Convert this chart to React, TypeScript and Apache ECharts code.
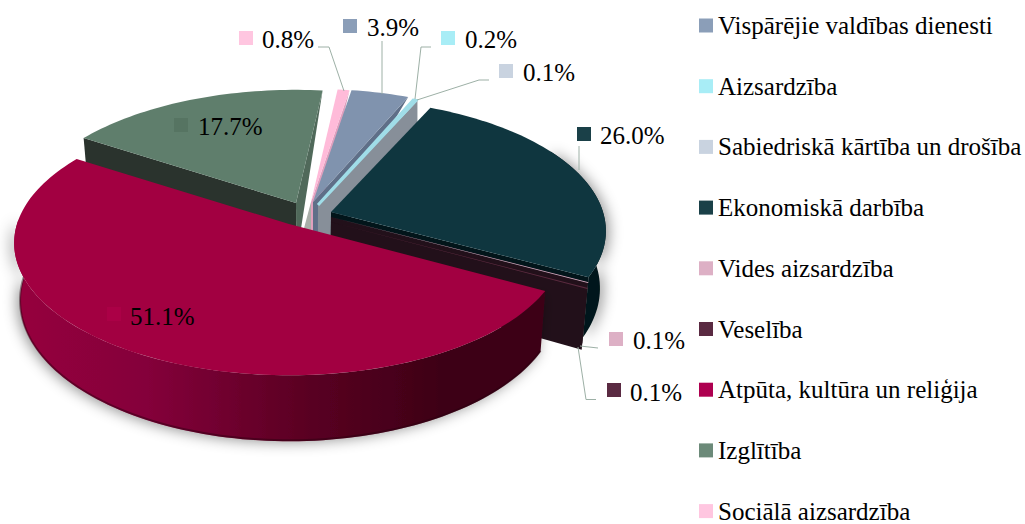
import React, { useEffect, useRef } from "react";
import * as echarts from "echarts";

const categories = [
  "Vispārējie valdības dienesti",
  "Aizsardzība",
  "Sabiedriskā kārtība un drošība",
  "Ekonomiskā darbība",
  "Vides aizsardzība",
  "Veselība",
  "Atpūta, kultūra un reliģija",
  "Izglītība",
  "Sociālā aizsardzība",
];
const shares = [3.9, 0.2, 0.1, 26.0, 0.1, 0.1, 51.1, 17.7, 0.8];
const legendColors = ["#8B9EB8", "#A8EDF6", "#C9D3E0", "#1A4048", "#DDB0C5", "#5A2A42", "#AE0050", "#6C8A79", "#FFC6E0"];

const FONT = "'Liberation Serif', 'Times New Roman', serif";
const FONT_SIZE = 25;
const START = 9.3; // degrees clockwise from the back of the pie
const R = 272, K = 0.476, P = 0.144;

// per-slice look: exploded apex, top colour, cut faces, wall
const looks: any[] = [
  { apex: [313, 202], top: "#8093AE", end: "#5F6F88", z: 4, endDrop: 0 },
  { apex: [318, 205], top: "#A0DDE8", stroke: 3, z: 5 },
  { apex: [318, 205], top: "#C2CBD8", end: "#878F99", z: 4.5, endDrop: 30 },
  { apex: [331, 212], top: "#0F363F", end: "#02151A", wall: "#02151A", shadowX: 3, z: 7 },
  { apex: [331, 217], top: "#D8A8BE", end: "#22101A", z: 8 },
  { apex: [331, 222], top: "#5A2A3F", end: "#22101A", z: 9 },
  { apex: [289, 224], top: "#A20041", wall: "red", shadowX: -3, z: 10 },
  { apex: [296, 203], top: "#5F7E6C", start: "#2A332D", end: "#50695A", z: 2, endDrop: 0 },
  { apex: [311, 202], top: "#FFBBD9", end: "#E0A0BE", z: 3, endDrop: 0, under: [[311, 202], [303, 232], [313, 232]], underFill: "#A8AEA8" },
];

// data-label key squares, text and leader lines
const labelLooks: any[] = [
  { box: [343, 19, 14], color: "#8B9EB8", tx: 367, ty: 27, line: [[382, 41], [382, 94]] },
  { box: [441, 31, 14], color: "#A8EDF6", tx: 465, ty: 39, line: [[431, 47], [421, 47], [415, 99]] },
  { box: [499, 64, 14], color: "#C9D3E0", tx: 523, ty: 72, line: [[489, 80], [479, 80], [417, 100]] },
  { box: [577, 127, 14], color: "#1A4048", tx: 600, ty: 135, line: [[579, 146], [579, 170]] },
  { box: [609, 332, 14], color: "#DDB0C5", tx: 633, ty: 340, line: [[598, 348], [580, 346]] },
  { box: [607, 383, 14], color: "#5A2A42", tx: 630, ty: 392, line: [[596, 399.5], [586, 399.5], [578, 347]] },
  { box: [107, 307, 14], color: "#AB0046", tx: 130, ty: 316 },
  { box: [174, 118, 14], color: "#567462", tx: 198, ty: 126 },
  { box: [239, 31, 14], color: "#FFC6E0", tx: 262, ty: 39, line: [[318, 47], [329, 47], [344, 91]] },
];

const total = shares.reduce((a, b) => a + b, 0);

function rimOffset(deg: number) {
  const t = (deg * Math.PI) / 180;
  const u = Math.sin(t), v = -Math.cos(t);
  const s = 1 / (1 - P * v);
  return [R * u * s, R * K * v * s];
}
function rimPoint(apex: number[], deg: number) {
  const o = rimOffset(deg);
  return [apex[0] + o[0], apex[1] + o[1]];
}
function basePoint(p: number[]) {
  return [310 + (p[0] - 310) * 0.98, p[1] + 60 + 0.06 * (p[1] - 275)];
}
function arc(apex: number[], a: number, b: number) {
  const n = Math.max(2, Math.ceil((b - a) / 1.5));
  const pts: number[][] = [];
  for (let i = 0; i <= n; i++) pts.push(rimPoint(apex, a + ((b - a) * i) / n));
  return pts;
}

function renderSlice(index: number, value: number) {
  const before = shares.slice(0, index).reduce((a, b) => a + b, 0);
  const a = START + (before / total) * 360;
  const b = a + (value / total) * 360;
  const look = looks[index];
  const apex = look.apex;
  const children: any[] = [];

  if (look.under) {
    children.push({ type: "polygon", shape: { points: look.under }, style: { fill: look.underFill } });
  }
  if (look.wall) {
    const wa = Math.max(a, 60), wb = Math.min(b, 272);
    const top = arc(apex, wa, wb);
    const bottom = top.map(basePoint);
    const fill =
      look.wall === "red"
        ? new echarts.graphic.LinearGradient(16, 0, 545, 0, [
            { offset: 0, color: "#96003D" },
            { offset: 0.25, color: "#84003A" },
            { offset: 0.55, color: "#5A0022" },
            { offset: 0.8, color: "#3E0016" },
            { offset: 1, color: "#3E0016" },
          ], true)
        : look.wall;
    children.push({
      type: "polygon",
      shape: { points: [...top, ...bottom.slice().reverse()] },
      style: { fill, shadowBlur: 14, shadowColor: "rgba(0,0,0,0.42)", shadowOffsetX: look.shadowX, shadowOffsetY: 1 },
    });
    if (look.wall === "red") {
      children.push({
        type: "polyline",
        shape: { points: bottom.map((p) => [p[0], p[1] - 1]) },
        style: { stroke: "rgba(40,0,15,0.45)", lineWidth: 2, fill: "none" },
      });
    }
  }
  const face = (deg: number, fill: string, drop?: number) => {
    const rim = rimPoint(apex, deg);
    const rimLow = drop === undefined ? basePoint(rim) : [rim[0], rim[1] + drop];
    return {
      type: "polygon",
      shape: { points: [apex, rim, rimLow, basePoint(apex)] },
      style: { fill },
    };
  };
  if (look.start) children.push(face(a, look.start));
  if (look.end) children.push(face(b, look.end, look.endDrop));
  children.push({
    type: "polygon",
    shape: { points: [apex, ...arc(apex, a, b)] },
    style: look.stroke
      ? { fill: look.top, stroke: look.top, lineWidth: look.stroke }
      : { fill: look.top },
  });
  return { type: "group", children };
}

function renderLabel(index: number, value: number) {
  const l = labelLooks[index];
  const children: any[] = [
    { type: "rect", shape: { x: l.box[0], y: l.box[1], width: l.box[2], height: l.box[2] }, style: { fill: l.color } },
    {
      type: "text",
      x: l.tx,
      y: l.ty,
      style: {
        text: value.toFixed(1) + "%",
        fontFamily: FONT,
        fontSize: FONT_SIZE,
        fill: "#000",
        align: "left",
        verticalAlign: "middle",
      },
    },
  ];
  if (l.line) {
    children.push({
      type: "polyline",
      shape: { points: l.line },
      style: { stroke: "#9DB0A6", lineWidth: 1, fill: "none" },
    });
  }
  return { type: "group", children };
}

export default function App() {
  const ref = useRef<HTMLDivElement>(null);
  useEffect(() => {
    document.body.style.margin = "0";
    const chart = echarts.init(ref.current!, undefined, { renderer: "svg" });
    const series: any[] = categories.map((name, i) => ({
      type: "custom",
      name,
      coordinateSystem: "none",
      z: looks[i].z,
      silent: true,
      itemStyle: { color: legendColors[i] },
      data: [[shares[i]]],
      renderItem: (_p: any, api: any) => renderSlice(i, api.value(0)),
    }));
    series.push({
      type: "custom",
      name: "labels",
      coordinateSystem: "none",
      z: 20,
      silent: true,
      data: shares.map((v) => [v]),
      renderItem: (p: any, api: any) => renderLabel(p.dataIndex, api.value(0)),
    });
    chart.setOption({
      animation: false,
      backgroundColor: "#fff",
      legend: {
        data: categories,
        orient: "vertical",
        left: 694,
        top: 8,
        height: 600,
        icon: "rect",
        itemWidth: 14,
        itemHeight: 14,
        itemGap: 35.7,
        selectedMode: false,
        textStyle: { fontFamily: FONT, fontSize: FONT_SIZE, color: "#000", lineHeight: 25, padding: [0, 0, 0, 0] },
      },
      series,
    });
    return () => chart.dispose();
  }, []);
  return <div ref={ref} style={{ width: 1025, height: 524, overflow: "hidden" }} />;
}
